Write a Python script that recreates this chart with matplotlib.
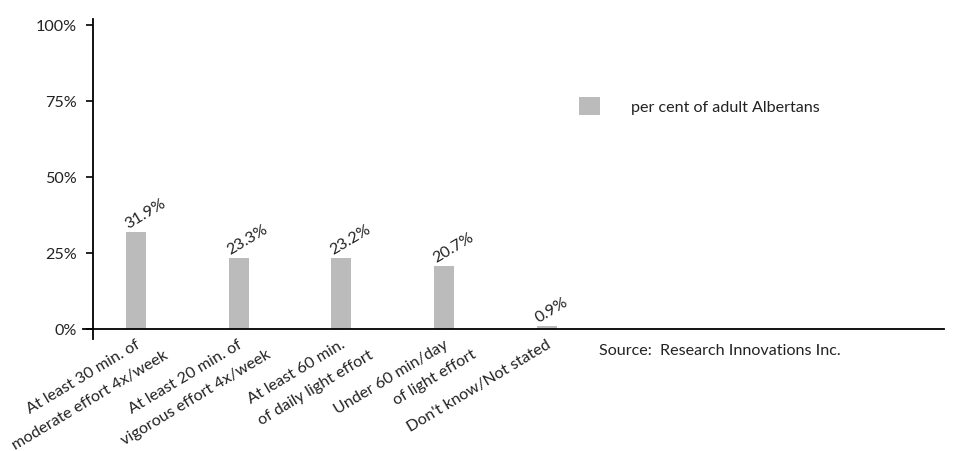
import matplotlib
matplotlib.use("Agg")
import matplotlib.pyplot as plt
from matplotlib.patches import Patch

plt.rcParams['font.family'] = ['Lato', 'DejaVu Sans']

categories = [
    "At least 30 min. of\nmoderate effort 4x/week",
    "At least 20 min. of\nvigorous effort 4x/week",
    "At least 60 min.\nof daily light effort",
    "Under 60 min/day\nof light effort",
    "Don't know/Not stated",
]
values = [31.9, 23.3, 23.2, 20.7, 0.9]
value_labels = ["31.9%", "23.3%", "23.2%", "20.7%", "0.9%"]
yticks = [0, 25, 50, 75, 100]
ytick_labels = ["0%", "25%", "50%", "75%", "100%"]
legend_label = "per cent of adult Albertans"
source_text = "Source:  Research Innovations Inc."

W, H, DPI = 954, 452, 100
PX = 72.0 / DPI  # points per pixel

fig = plt.figure(figsize=(W / DPI, H / DPI), dpi=DPI)
ax = fig.add_axes([83 / W, 1 - 340 / H, (944 - 83) / W, (340 - 20) / H])

bar_color = "#bbbbbb"
bar_w = 0.195
x = list(range(len(values)))
ax.bar(x, values, width=bar_w, color=bar_color, edgecolor="none", zorder=2)

ax.set_xlim(-0.516, 7.868)
ax.set_ylim(-3.29, 101.97)

for s in ["top", "right"]:
    ax.spines[s].set_visible(False)
ax.spines["left"].set_position(("data", -0.419))
ax.spines["bottom"].set_position(("data", 0))
for s in ["left", "bottom"]:
    ax.spines[s].set_linewidth(1.3)
    ax.spines[s].set_color("black")
    ax.spines[s].set_zorder(3)

fs = 11.6
tc = "#222222"
ax.set_yticks(yticks)
ax.set_yticklabels(ytick_labels)
ax.tick_params(axis="y", direction="out", length=7 * PX, width=1.2, pad=9 * PX,
               labelsize=fs, colors="black", labelcolor=tc)
ax.set_xticks([])

rot = 31
# value labels
for xi, v, lab in zip(x, values, value_labels):
    ax.annotate(lab, xy=(xi - bar_w / 2, v), xytext=(2 * PX, 4 * PX),
                textcoords="offset points", rotation=rot, rotation_mode="anchor",
                ha="left", va="baseline", fontsize=fs, color=tc)

# category labels (each line placed separately)
for xi, lab in zip(x, categories):
    lines = lab.split("\n")
    offsets = [(-1, -8), (27, -18)]
    for line, (dx, dy) in zip(lines, offsets):
        ax.annotate(line, xy=(xi, 0), xytext=(dx * PX, dy * PX),
                    textcoords="offset points", rotation=rot, rotation_mode="anchor",
                    ha="right", va="top", fontsize=fs, color=tc,
                    annotation_clip=False)

# legend
handles = [Patch(facecolor=bar_color, edgecolor="none", label=legend_label)]
fig.legend(handles=handles, loc="center left", bbox_to_anchor=(579 / W, 1 - 107 / H),
           frameon=False, fontsize=fs, handlelength=1.45 * 10.5 / fs,
           handleheight=1.4 * 10.5 / fs, handletextpad=2.1 * 10.5 / fs,
           borderpad=0, borderaxespad=0, labelcolor=tc)

fig.text(599 / W, 1 - 351 / H, source_text, fontsize=fs, va="center", ha="left",
         color=tc)

fig.savefig("out.png", dpi=DPI)
